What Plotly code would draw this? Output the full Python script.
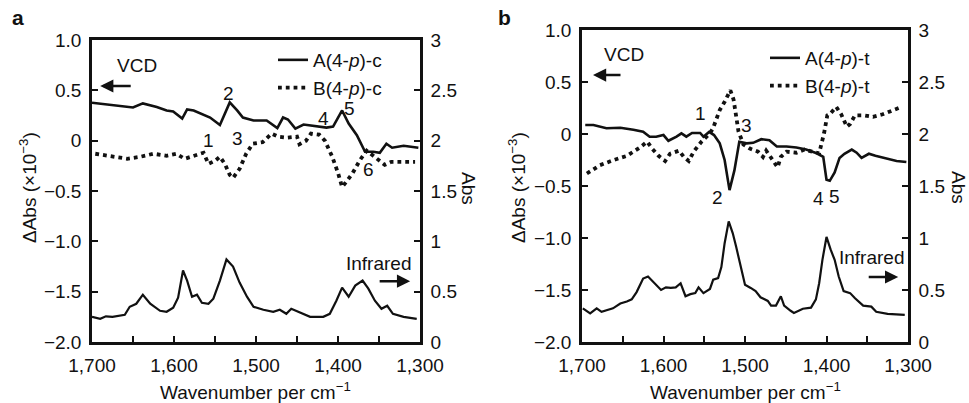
import plotly.graph_objects as go

# ---------------- Panel a data ----------------
a_vcd_A_wn = [1700, 1678, 1657, 1650, 1638, 1621, 1609, 1601, 1590, 1584, 1576, 1568, 1556, 1544, 1532,
              1523, 1516, 1503, 1487, 1474, 1467, 1461, 1452, 1442, 1430, 1414, 1406, 1395, 1387, 1377,
              1367, 1357, 1349, 1341, 1334, 1320, 1302]
a_vcd_A = [0.377, 0.354, 0.337, 0.33, 0.37, 0.335, 0.30, 0.29, 0.22, 0.31, 0.30, 0.27, 0.23, 0.155, 0.38,
           0.30, 0.23, 0.20, 0.20, 0.125, 0.23, 0.21, 0.12, 0.16, 0.15, 0.13, 0.14, 0.30, 0.17, 0.055,
           -0.11, -0.11, -0.12, -0.03, -0.07, -0.05, -0.07]

a_vcd_B_wn = [1696, 1678, 1657, 1641, 1625, 1609, 1597, 1587, 1576, 1564, 1558, 1550, 1544, 1538, 1532,
              1528, 1520, 1512, 1504, 1492, 1481, 1473, 1462, 1450, 1447, 1439, 1433, 1423, 1416, 1407,
              1400, 1395, 1390, 1382, 1373, 1365, 1357, 1343, 1335, 1320, 1306]
a_vcd_B = [-0.13, -0.15, -0.18, -0.16, -0.13, -0.15, -0.13, -0.18, -0.15, -0.12, -0.23, -0.20, -0.16, -0.23, -0.34,
           -0.37, -0.28, -0.13, -0.03, -0.015, 0.07, 0.04, 0.03, 0.04, -0.035, 0.0, 0.07, 0.06, 0.0, -0.16,
           -0.32, -0.46, -0.41, -0.32, -0.19, -0.10, -0.15, -0.24, -0.21, -0.21, -0.21]

a_ir_wn = [1700, 1690, 1683, 1675, 1660, 1654, 1646, 1638, 1629, 1617, 1609, 1601, 1595, 1589, 1584,
           1578, 1572, 1566, 1558, 1552, 1544, 1536, 1528, 1520, 1511, 1503, 1491, 1479, 1471, 1463,
           1457, 1446, 1434, 1418, 1410, 1402, 1395, 1387, 1379, 1370, 1363, 1355, 1347, 1340, 1333,
           1320, 1304]
a_ir = [0.25, 0.23, 0.255, 0.25, 0.27, 0.35, 0.38, 0.47, 0.38, 0.31, 0.30, 0.34, 0.44, 0.71, 0.61,
        0.45, 0.47, 0.39, 0.38, 0.43, 0.61, 0.82, 0.75, 0.59, 0.45, 0.35, 0.32, 0.30, 0.32, 0.28,
        0.33, 0.29, 0.25, 0.25, 0.28, 0.41, 0.54, 0.45, 0.56, 0.61, 0.53, 0.41, 0.33, 0.36, 0.28,
        0.25, 0.23]

# ---------------- Panel b data ----------------
b_vcd_A_wn = [1696, 1686, 1670, 1653, 1637, 1625, 1617, 1609, 1600, 1594, 1584, 1578, 1572, 1565, 1555,
              1551, 1544, 1538, 1531, 1525, 1519, 1513, 1507, 1498, 1490, 1480, 1470, 1461, 1449, 1437,
              1425, 1412, 1404, 1400, 1396, 1390, 1384, 1378, 1369, 1363, 1357, 1348, 1340, 1326, 1314, 1302]
b_vcd_A = [0.087, 0.087, 0.055, 0.06, 0.04, 0.022, -0.026, -0.026, -0.01, -0.065, -0.026, 0.006, -0.026, 0.01, 0.01,
           -0.026, 0.02, -0.01, -0.09, -0.25, -0.54, -0.35, -0.074, -0.09, -0.085, -0.05, -0.06, -0.12, -0.12, -0.13,
           -0.15, -0.185, -0.22, -0.44, -0.45, -0.37, -0.23, -0.19, -0.15, -0.18, -0.23, -0.19, -0.21, -0.24, -0.26, -0.27]

b_vcd_B_wn = [1694, 1678, 1661, 1645, 1629, 1620, 1614, 1606, 1598, 1592, 1581, 1575, 1569, 1563, 1553,
              1543, 1539, 1535, 1531, 1525, 1518, 1514, 1511, 1508, 1502, 1494, 1484, 1478, 1474, 1466,
              1460, 1456, 1449, 1437, 1427, 1417, 1409, 1403, 1399, 1396, 1388, 1382, 1375, 1371, 1365,
              1355, 1343, 1331, 1318, 1308]
b_vcd_B = [-0.38, -0.30, -0.25, -0.21, -0.13, -0.074, -0.14, -0.21, -0.26, -0.19, -0.16, -0.22, -0.26, -0.17, -0.07,
           0.007, 0.06, 0.135, 0.23, 0.31, 0.42, 0.33, 0.17, 0.025, -0.10, -0.14, -0.17, -0.22, -0.16, -0.26,
           -0.32, -0.22, -0.17, -0.18, -0.15, -0.17, -0.185, 0.007, 0.18, 0.19, 0.26, 0.19, 0.07, 0.097, 0.18,
           0.18, 0.165, 0.19, 0.23, 0.26]

b_ir_wn = [1699, 1690, 1682, 1676, 1662, 1653, 1645, 1639, 1633, 1625, 1619, 1613, 1603, 1597, 1591,
           1585, 1579, 1573, 1567, 1561, 1557, 1551, 1543, 1539, 1533, 1529, 1525, 1520, 1515, 1511,
           1505, 1500, 1493, 1487, 1481, 1472, 1468, 1462, 1456, 1452, 1444, 1440, 1429, 1419, 1413,
           1409, 1405, 1400, 1395, 1390, 1385, 1379, 1371, 1365, 1355, 1345, 1339, 1325, 1304]
b_ir = [0.324, 0.276, 0.324, 0.29, 0.324, 0.37, 0.39, 0.41, 0.48, 0.61, 0.63, 0.58, 0.50, 0.525, 0.52,
        0.525, 0.565, 0.44, 0.46, 0.47, 0.525, 0.47, 0.51, 0.60, 0.615, 0.72, 0.95, 1.16, 1.045, 0.92,
        0.73, 0.55, 0.52, 0.49, 0.43, 0.395, 0.35, 0.35, 0.44, 0.35, 0.30, 0.28, 0.32, 0.33, 0.41,
        0.565, 0.79, 1.01, 0.89, 0.79, 0.63, 0.49, 0.47, 0.42, 0.35, 0.34, 0.29, 0.27, 0.26]

x_tickvals = [1700, 1650, 1600, 1550, 1500, 1450, 1400, 1350, 1300]
x_ticktext = ["1,700", "", "1,600", "", "1,500", "", "1,400", "", "1,300"]
yl_tickvals = [1.0, 0.5, 0, -0.5, -1.0, -1.5, -2.0]
yl_ticktext = ["1.0", "0.5", "0", "\u22120.5", "\u22121.0", "\u22121.5", "\u22122.0"]
yr_tickvals = [3, 2.5, 2, 1.5, 1, 0.5, 0]
yr_ticktext = ["3", "2.5", "2", "1.5", "1", "0.5", "0"]

W, H = 969, 403
FONT = "Liberation Sans, Arial, Helvetica, sans-serif"
FS = 19
BLK = "#111111"

def px(x):
    return x / W

def py(y):
    return 1 - y / H

fig = go.Figure()

solid = dict(color=BLK, width=2.6)
dotted = dict(color=BLK, width=3.8, dash="3.8px,4px")

fig.add_trace(go.Scatter(x=a_vcd_A_wn, y=a_vcd_A, mode="lines", line=solid, name="A(4-<i>p</i>)-c",
                         xaxis="x", yaxis="y", legend="legend"))
fig.add_trace(go.Scatter(x=a_vcd_B_wn, y=a_vcd_B, mode="lines", line=dotted, name="B(4-<i>p</i>)-c",
                         xaxis="x", yaxis="y", legend="legend"))
fig.add_trace(go.Scatter(x=a_ir_wn, y=a_ir, mode="lines", line=dict(color=BLK, width=2.2), name="IR a",
                         xaxis="x", yaxis="y2", showlegend=False))

fig.add_trace(go.Scatter(x=b_vcd_A_wn, y=b_vcd_A, mode="lines", line=solid, name="A(4-<i>p</i>)-t",
                         xaxis="x2", yaxis="y3", legend="legend2"))
fig.add_trace(go.Scatter(x=b_vcd_B_wn, y=b_vcd_B, mode="lines", line=dotted, name="B(4-<i>p</i>)-t",
                         xaxis="x2", yaxis="y3", legend="legend2"))
fig.add_trace(go.Scatter(x=b_ir_wn, y=b_ir, mode="lines", line=dict(color=BLK, width=2.2), name="IR b",
                         xaxis="x2", yaxis="y4", showlegend=False))

ax_common = dict(showline=True, linecolor=BLK, linewidth=2.6, ticks="inside", tickcolor=BLK,
                 ticklen=6, tickwidth=2.2, showgrid=False, zeroline=False, automargin=False,
                 tickfont=dict(family=FONT, size=FS, color=BLK))

xa = dict(ax_common, range=[1700, 1300], tickvals=x_tickvals, ticktext=x_ticktext, mirror=True,
          ticklabelstandoff=4)
yl = dict(ax_common, range=[-2.0, 1.0], tickvals=yl_tickvals, ticktext=yl_ticktext, ticklabelstandoff=4)
yr = dict(ax_common, range=[0, 3], tickvals=yr_tickvals, ticktext=yr_ticktext, side="right",
          ticklabelstandoff=4)

a_dom_x = [px(92), px(420)]
a_dom_y = [py(342), py(40)]
b_dom_x = [px(582), px(908)]
b_dom_y = [py(342), py(30)]

fig.update_layout(
    width=W, height=H,
    margin=dict(l=0, r=0, t=0, b=0, autoexpand=False),
    paper_bgcolor="white", plot_bgcolor="white",
    font=dict(family=FONT, size=FS, color=BLK),
    xaxis=dict(xa, domain=a_dom_x, anchor="y"),
    yaxis=dict(yl, domain=a_dom_y, anchor="x"),
    yaxis2=dict(yr, overlaying="y", anchor="x"),
    xaxis2=dict(xa, domain=b_dom_x, anchor="y3"),
    yaxis3=dict(yl, domain=b_dom_y, anchor="x2"),
    yaxis4=dict(yr, overlaying="y3", anchor="x2"),
    legend=dict(x=px(273), y=py(41), xanchor="left", yanchor="top", bgcolor="rgba(0,0,0,0)",
                font=dict(family=FONT, size=FS, color=BLK), tracegroupgap=0, itemwidth=30),
    legend2=dict(x=px(765), y=py(39), xanchor="left", yanchor="top", bgcolor="rgba(0,0,0,0)",
                 font=dict(family=FONT, size=FS, color=BLK), tracegroupgap=0, itemwidth=30),
    showlegend=True,
)

ann = []

def txt(x, y, t, xref, yref, size=FS, **kw):
    d = dict(x=x, y=y, text=t, xref=xref, yref=yref, showarrow=False, xanchor="center", yanchor="middle",
             font=dict(family=FONT, size=size, color=BLK))
    d.update(kw)
    ann.append(d)

# panel letters
txt(px(18), py(18), "<b>a</b>", "paper", "paper", size=21)
txt(px(504), py(18), "<b>b</b>", "paper", "paper", size=21)

# axis titles
for xc, yc in [(28, 188), (517, 188)]:
    txt(px(xc), py(yc), "\u0394Abs (\u00d710<sup>\u22123</sup>)", "paper", "paper", textangle=-90)
for xc, yc in [(468, 188), (959, 187)]:
    txt(px(xc), py(yc), "Abs", "paper", "paper", textangle=90)
for xc in [256, 745]:
    txt(px(xc), py(391), "Wavenumber per cm<sup>\u22121</sup>", "paper", "paper")

# VCD / Infrared labels
txt(1645, 0.75, "VCD", "x", "y")
txt(1648.5, 0.76, "VCD", "x2", "y3")
txt(1351, -1.217, "Infrared", "x", "y")
txt(1345, -1.19, "Infrared", "x2", "y3")

# peak numbers
for wn, v, t in [(1534, 0.47, "2"), (1558, 0.006, "1"), (1522, 0.026, "3"), (1418, 0.225, "4"),
                 (1385.5, 0.324, "5"), (1363, -0.29, "6")]:
    txt(wn, v, t, "x", "y")
for wn, v, t in [(1555, 0.199, "1"), (1498, 0.077, "3"), (1534, -0.61, "2"), (1410, -0.62, "4"),
                 (1389.6, -0.60, "5")]:
    txt(wn, v, t, "x2", "y3")

# arrows
arrow = dict(showarrow=True, arrowhead=2, arrowsize=1.1, arrowwidth=2.4, arrowcolor=BLK, text="", ay=0)
ann.append(dict(arrow, x=1690, y=0.543, xref="x", yref="y", ax=32))
ann.append(dict(arrow, x=1686.5, y=0.567, xref="x2", yref="y3", ax=29))
ann.append(dict(arrow, x=1312, y=-1.396, xref="x", yref="y", ax=-32))
ann.append(dict(arrow, x=1312, y=-1.375, xref="x2", yref="y3", ax=-31))

fig.update_layout(annotations=ann)

fig.write_html("out.html", config={"displayModeBar": False},
               post_script="document.body.style.margin='0px';document.body.style.overflow='hidden';")
